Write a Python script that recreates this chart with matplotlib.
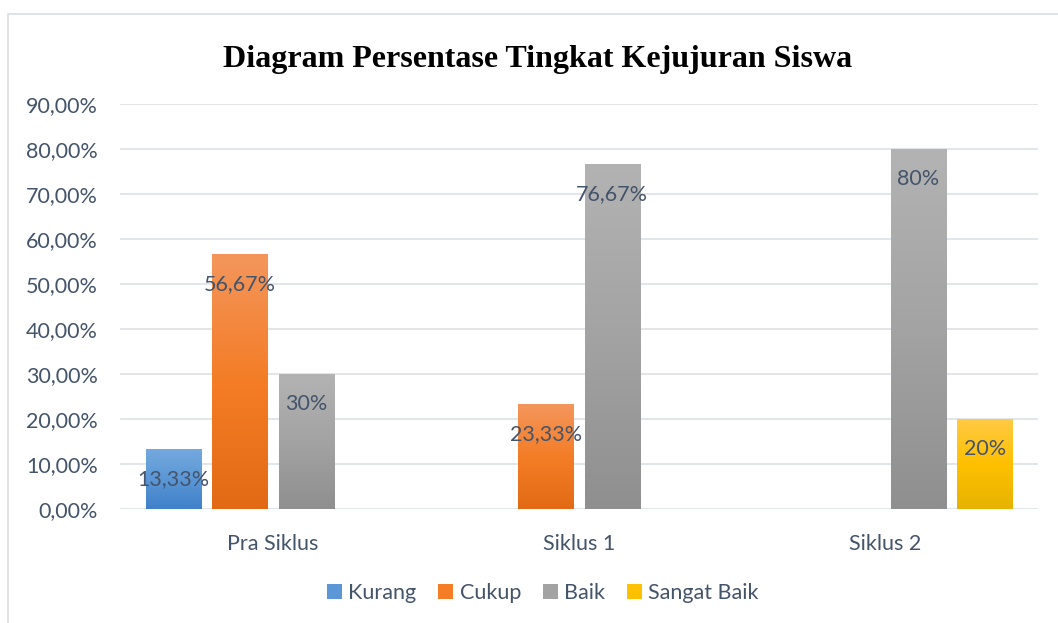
import numpy as np
import matplotlib.pyplot as plt
from matplotlib.colors import LinearSegmentedColormap
from matplotlib.patches import Rectangle, Patch

categories = ['Pra Siklus', 'Siklus 1', 'Siklus 2']
series = ['Kurang', 'Cukup', 'Baik', 'Sangat Baik']
kurang = [13.33, 0, 0]
cukup = [56.67, 23.33, 0]
baik = [30, 76.67, 80]
sangat_baik = [0, 0, 20]
labels = [['13,33%', '', ''], ['56,67%', '23,33%', ''], ['30%', '76,67%', '80%'], ['', '', '20%']]
yticks = [0, 10, 20, 30, 40, 50, 60, 70, 80, 90]

values = [kurang, cukup, baik, sangat_baik]
# top, middle, bottom colours of each gradient
grads = [['#74a9de', '#5b97d6', '#3f80c9'],
         ['#f3965c', '#f47d26', '#e26a15'],
         ['#b3b3b3', '#a3a3a3', '#8f8f8f'],
         ['#ffca45', '#ffc000', '#e6b300']]
text_col = '#44546a'

plt.rcParams['font.family'] = ['Lato', 'DejaVu Sans']

fig = plt.figure(figsize=(10.58, 6.23), dpi=100)
ax = fig.add_axes([120/1058, 114/623, 918/1058, 405/623])

# chart frame
fig.patches.append(Rectangle((8/1058, -0.01), 1.1, (623-14)/623 + 0.01, transform=fig.transFigure,
                             fill=False, edgecolor='#d9dde3', linewidth=1.2, zorder=0))

x = np.arange(len(categories))
w = 0.18
step = 0.2175
grad = np.linspace(0, 1, 256).reshape(-1, 1)

for i, vals in enumerate(values):
    cmap = LinearSegmentedColormap.from_list(series[i], grads[i][::-1])
    for j, v in enumerate(vals):
        if v == 0:
            continue
        xc = x[j] + (i - 1.5) * step
        bar = ax.bar(xc, v, width=w, color=grads[i][1], zorder=2)[0]
        im = ax.imshow(grad, cmap=cmap, origin='lower', aspect='auto',
                       extent=[xc - w/2, xc + w/2, 0, v], zorder=3)
        im.set_clip_path(bar)
        ax.annotate(labels[i][j], (xc, v), xytext=(0, -30), textcoords='offset pixels',
                    ha='center', va='center', fontsize=15.5, color=text_col, zorder=5)

ax.set_xlim(-0.5, 2.5)
ax.set_ylim(0, 90)
ax.set_yticks(yticks)
ax.set_yticklabels([f'{t},00%' for t in yticks])
ax.set_xticks(x)
ax.set_xticklabels(categories)
ax.tick_params(length=0, labelsize=15.5, labelcolor=text_col)
ax.tick_params(axis='y', pad=16)
ax.tick_params(axis='x', pad=18)
ax.yaxis.grid(True, color='#dde1e7', linewidth=1.2)
ax.set_axisbelow(True)
for s in ax.spines.values():
    s.set_visible(False)

fig.text(0.508, 0.905, 'Diagram Persentase Tingkat Kejujuran Siswa', ha='center', va='center',
         fontsize=23, fontweight='bold', family='Liberation Serif')

handles = [Patch(facecolor=g[1]) for g in grads]
fig.legend(handles, series, loc='center', bbox_to_anchor=(0.513, 0.048), ncol=4, frameon=False,
           fontsize=15.5, labelcolor=text_col, handlelength=0.7, handleheight=0.7,
           handletextpad=0.3, columnspacing=1.0)

plt.savefig('out.png', dpi=100)
